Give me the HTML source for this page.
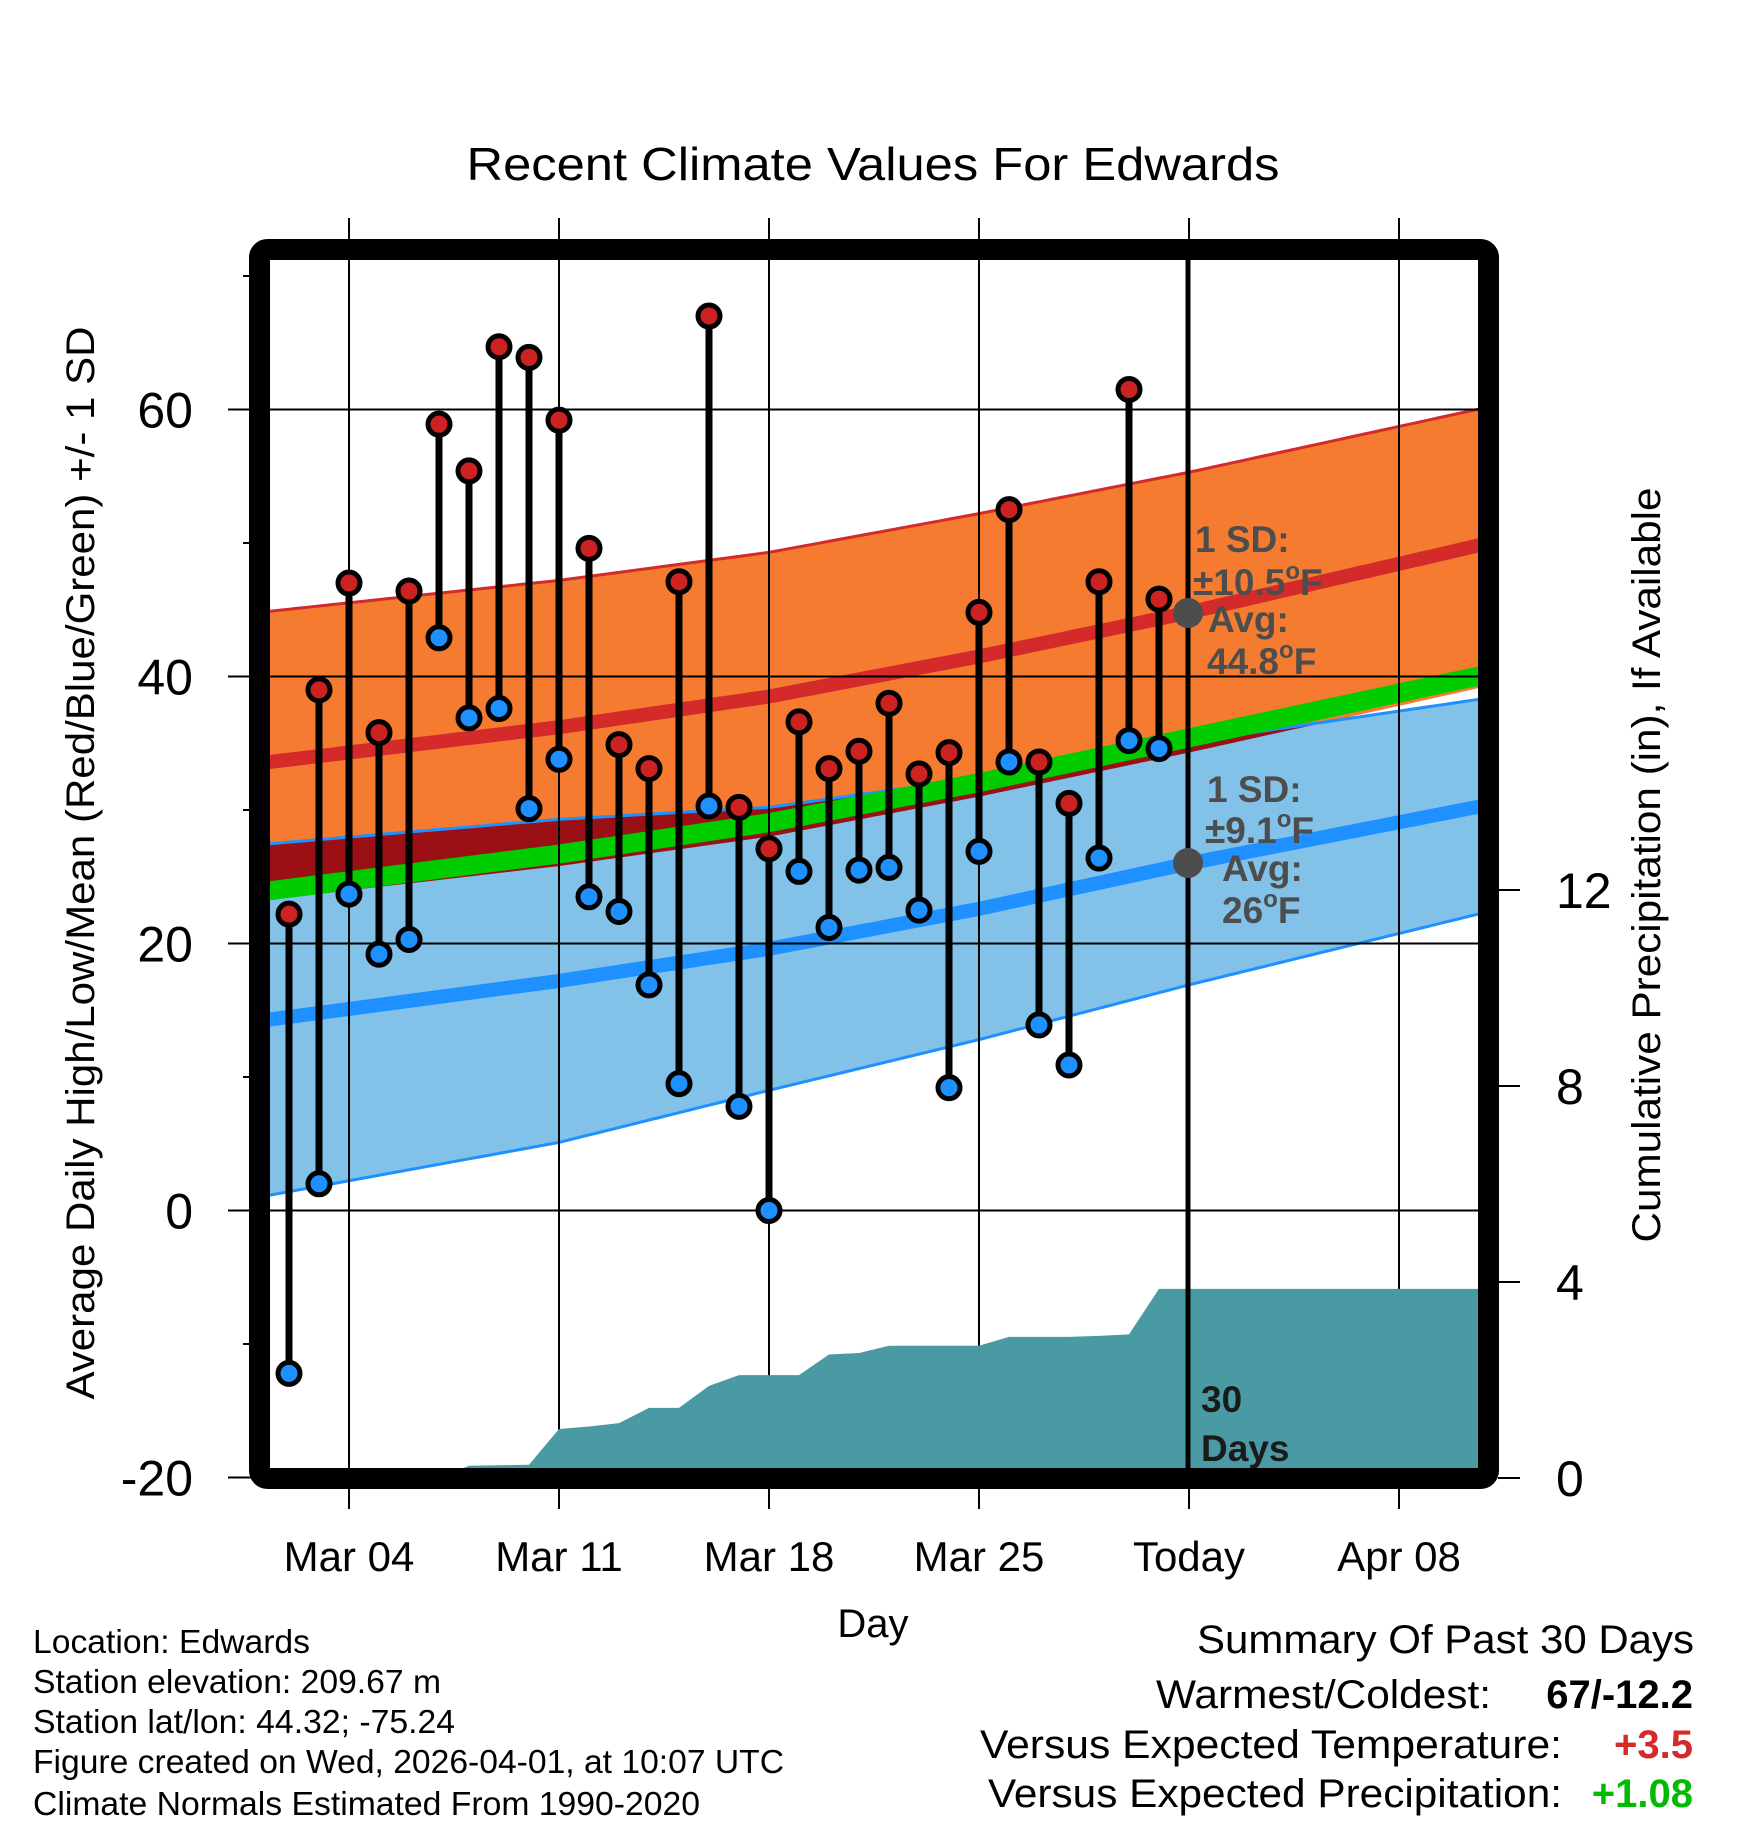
<!DOCTYPE html>
<html><head><meta charset="utf-8"><style>
html,body{margin:0;padding:0;background:#fff;}
svg{display:block;font-family:"Liberation Sans",sans-serif;}
</style></head><body>
<svg id="chart" xmlns="http://www.w3.org/2000/svg" width="1748" height="1828" viewBox="0 0 1748 1828">
<defs><clipPath id="plotclip"><rect x="270" y="260" width="1208" height="1208"/></clipPath></defs>
<g id="bands" clip-path="url(#plotclip)"></g>
<g id="grid"></g>
<g id="precip" clip-path="url(#plotclip)"></g>
<g id="marks"></g>
<line x1="1188" y1="260" x2="1188" y2="1468" stroke="#000" stroke-width="5"/>
<g fill="#4d4d4d" font-weight="bold" font-size="37">
<circle cx="1188" cy="613" r="15" fill="#4d4d4d"/>
<text x="1195" y="552">1 SD:</text>
<text x="1193" y="595">±10.5<tspan font-size="24" dy="-16">o</tspan><tspan dy="16">F</tspan></text>
<text x="1208" y="632">Avg:</text>
<text x="1207" y="674">44.8<tspan font-size="24" dy="-16">o</tspan><tspan dy="16">F</tspan></text>
</g>
<g fill="#4d4d4d" font-weight="bold" font-size="37">
<circle cx="1188" cy="863" r="15" fill="#4d4d4d"/>
<text x="1207" y="802">1 SD:</text>
<text x="1205" y="843">±9.1<tspan font-size="24" dy="-16">o</tspan><tspan dy="16">F</tspan></text>
<text x="1222" y="881">Avg:</text>
<text x="1222" y="923">26<tspan font-size="24" dy="-16">o</tspan><tspan dy="16">F</tspan></text>
</g>
<g fill="#1a1a1a" font-weight="bold" font-size="37">
<text x="1201" y="1412">30</text><text x="1201" y="1461">Days</text>
</g>
<rect x="259.5" y="249.5" width="1229" height="1229" rx="8" fill="none" stroke="#000" stroke-width="21"/>
<g id="axes"></g>
<text x="873" y="180" text-anchor="middle" font-size="46" textLength="813" lengthAdjust="spacingAndGlyphs">Recent Climate Values For Edwards</text>
<text x="873" y="1637" text-anchor="middle" font-size="40">Day</text>
<text transform="translate(94,863) rotate(-90)" text-anchor="middle" font-size="40" textLength="1073" lengthAdjust="spacingAndGlyphs">Average Daily High/Low/Mean (Red/Blue/Green) +/- 1 SD</text>
<text transform="translate(1660,865) rotate(-90)" text-anchor="middle" font-size="40" textLength="755" lengthAdjust="spacingAndGlyphs">Cumulative Precipitation (in), If Available</text>
<g font-size="33">
<text x="33" y="1653" textLength="277" lengthAdjust="spacingAndGlyphs">Location: Edwards</text>
<text x="33" y="1693" textLength="408" lengthAdjust="spacingAndGlyphs">Station elevation: 209.67 m</text>
<text x="33" y="1733" textLength="422" lengthAdjust="spacingAndGlyphs">Station lat/lon: 44.32; -75.24</text>
<text x="33" y="1773" textLength="751" lengthAdjust="spacingAndGlyphs">Figure created on Wed, 2026-04-01, at 10:07 UTC</text>
<text x="33" y="1815" textLength="667" lengthAdjust="spacingAndGlyphs">Climate Normals Estimated From 1990-2020</text>
</g>
<g font-size="40">
<text x="1197" y="1653" textLength="497" lengthAdjust="spacingAndGlyphs">Summary Of Past 30 Days</text>
<text x="1156" y="1708" textLength="335" lengthAdjust="spacingAndGlyphs">Warmest/Coldest:</text>
<text x="980" y="1758" textLength="582" lengthAdjust="spacingAndGlyphs">Versus Expected Temperature:</text>
<text x="988" y="1807" textLength="574" lengthAdjust="spacingAndGlyphs">Versus Expected Precipitation:</text>
<text x="1693" y="1708" text-anchor="end" font-weight="bold" font-size="40">67/-12.2</text>
<text x="1693" y="1758" text-anchor="end" font-weight="bold" font-size="40" fill="#d42a2a">+3.5</text>
<text x="1693" y="1807" text-anchor="end" font-weight="bold" font-size="40" fill="#00bb00">+1.08</text>
</g>
</svg>
<script>
const days = [2,3,4,5,6,7,8,9,10,11,12,13,14,15,16,17,18,19,20,21,22,23,24,25,26,27,28,29,30,31];
const highs = [22.2,39,47,35.8,46.4,58.9,55.4,64.7,63.9,59.2,49.6,34.9,33.1,47.1,67,30.2,27.1,36.6,33.1,34.4,38,32.7,34.3,44.8,52.5,33.6,30.5,47.1,61.5,45.8];
const lows = [-12.2,2,23.7,19.2,20.3,42.9,36.9,37.6,30.1,33.8,23.5,22.4,16.9,9.5,30.3,7.8,0,25.4,21.2,25.5,25.7,22.5,9.2,26.9,33.6,13.9,10.9,26.4,35.2,34.6];
const precip = [0,0,0,0,0,0,0.25,0.26,0.27,1.0,1.05,1.12,1.43,1.43,1.88,2.1,2.1,2.1,2.52,2.55,2.7,2.7,2.7,2.7,2.88,2.88,2.88,2.9,2.93,3.86];
const normDays = [1,11,18,25,32,42];
const normHigh = [33.5,36.2,38.5,41.5,44.8,50.0];
const normHighSDUp = [11.3,11.0,10.8,10.7,10.5,10.2];
const normHighSDDown = [10.3,10.4,10.5,10.5,10.5,10.7];
const normLow = [14.2,17.2,19.6,22.6,26.0,30.4];
const normLowSD = [13.2,12.1,10.6,9.8,9.1,8.0];
const tempTicks = [60,40,20,0,-20];
const minorTicks = [70,50,30,10,-10];
const precipTicks = [0,4,8,12];
const dateTickDays = [4,11,18,25,32,39];
const dateTickLabels = ["Mar 04","Mar 11","Mar 18","Mar 25","Today","Apr 08"];

const NS = "http://www.w3.org/2000/svg";
const xS = d => 259 + (d - 1) * 30;
const yT = t => 1210.5 - 13.35 * t;
const yP = p => 1478 - 49 * p;
function mk(parent, tag, attrs){const e=document.createElementNS(NS,tag);for(const k in attrs)e.setAttribute(k,attrs[k]);parent.appendChild(e);return e;}
function interp(arr, d){
  if(d<=normDays[0]){const s=(arr[1]-arr[0])/(normDays[1]-normDays[0]);return arr[0]+s*(d-normDays[0]);}
  for(let i=0;i<normDays.length-1;i++){if(d<=normDays[i+1]){const f=(d-normDays[i])/(normDays[i+1]-normDays[i]);return arr[i]+f*(arr[i+1]-arr[i]);}}
  const n=normDays.length-1;const s=(arr[n]-arr[n-1])/(normDays[n]-normDays[n-1]);return arr[n]+s*(d-normDays[n]);
}
const samp=[];for(let d=1;d<=42.01;d+=0.25)samp.push(d);
const hiU=d=>interp(normHigh,d)+interp(normHighSDUp,d), hiL=d=>interp(normHigh,d)-interp(normHighSDDown,d);
const loU=d=>interp(normLow,d)+interp(normLowSD,d), loL=d=>interp(normLow,d)-interp(normLowSD,d);
function band(fu,fl){return samp.map(d=>xS(d)+","+yT(fu(d))).join(" ")+" "+samp.slice().reverse().map(d=>xS(d)+","+yT(fl(d))).join(" ");}
function line(f){return samp.map(d=>xS(d)+","+yT(f(d))).join(" ");}
const B=document.getElementById("bands");
let e;
e=mk(B,"polygon",{points:band(hiU,hiL),fill:"#f47b2f"});


e=mk(B,"polygon",{points:band(loU,loL),fill:"#82c1e8"});


e=mk(B,"polygon",{points:band(d=>Math.max(loU(d),hiL(d)),hiL),fill:"#9a1015"});


[[hiU,"#d42a2a"],[loU,"#1e90ff"],[loL,"#1e90ff"]].forEach(([f,c])=>{
  e=mk(B,"polyline",{points:line(f),fill:"none",stroke:c,"stroke-width":3});
  
  
});
e=mk(B,"polyline",{points:line(d=>interp(normHigh,d)),fill:"none",stroke:"#d42a2a","stroke-width":14});


e=mk(B,"polyline",{points:line(d=>interp(normLow,d)),fill:"none",stroke:"#1e90ff","stroke-width":14});


e=mk(B,"polyline",{points:line(d=>(interp(normHigh,d)+interp(normLow,d))/2),fill:"none",stroke:"#00cc00","stroke-width":19});



const G=document.getElementById("grid");
tempTicks.forEach(t=>{
  e=mk(G,"line",{x1:228,x2:1478,y1:yT(t),y2:yT(t),stroke:"#000","stroke-width":2});
  
  
});
dateTickDays.forEach(d=>{
  e=mk(G,"line",{x1:xS(d),x2:xS(d),y1:218,y2:1509,stroke:"#000","stroke-width":2});
  
  
});

const P=document.getElementById("precip");
let pts=days.map((d,i)=>xS(d)+","+yP(precip[i]));
pts.push("1478,"+yP(precip[precip.length-1]),"1478,1468",xS(days[0])+",1468");
e=mk(P,"polygon",{points:pts.join(" "),fill:"#4a9aa3"});



const M=document.getElementById("marks");
days.forEach((d,i)=>{
  e=mk(M,"line",{x1:xS(d),x2:xS(d),y1:yT(highs[i]),y2:yT(lows[i]),stroke:"#000","stroke-width":7});
  
  
});
days.forEach((d,i)=>{
  e=mk(M,"circle",{cx:xS(d),cy:yT(highs[i]),r:11,fill:"#cc2222",stroke:"#000","stroke-width":5});
  
  
  e=mk(M,"circle",{cx:xS(d),cy:yT(lows[i]),r:11,fill:"#1e90ff",stroke:"#000","stroke-width":5});
  
  
});

const A=document.getElementById("axes");
tempTicks.forEach(t=>{
  e=mk(A,"text",{x:193,y:yT(t)+18,"text-anchor":"end","font-size":50});
  e.textContent=String(t);
  
  
});
minorTicks.forEach(t=>{
  e=mk(A,"line",{x1:243,x2:250,y1:yT(t),y2:yT(t),stroke:"#000","stroke-width":2});
  
  
});
precipTicks.forEach(p=>{
  e=mk(A,"line",{x1:1498,x2:1520,y1:yP(p),y2:yP(p),stroke:"#000","stroke-width":2});
  
  
  e=mk(A,"text",{x:1556,y:yP(p)+18,"font-size":50});
  e.textContent=String(p);
  
  
});
dateTickDays.forEach((d,i)=>{
  e=mk(A,"text",{x:xS(d),y:1571,"text-anchor":"middle","font-size":42});
  e.textContent=dateTickLabels[i];
  
  
});
</script>
</body></html>
